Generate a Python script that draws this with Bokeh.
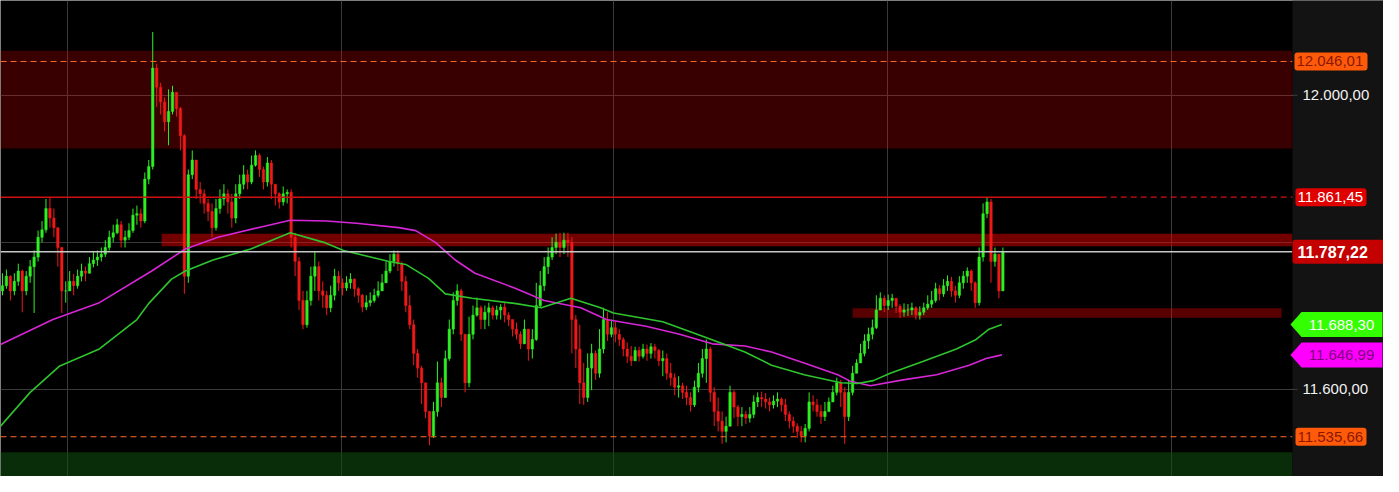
from bokeh.plotting import figure
from bokeh.models import Range1d, FixedTicker, BoxAnnotation, Label, PolyAnnotation, ColumnDataSource
from bokeh.embed import file_html
from bokeh.resources import INLINE

# ---------------- data ----------------
first_open = 11734

close = [
    11741, 11754, 11734, 11747, 11761, 11734, 11754, 11767, 11780, 11807,
    11817, 11846, 11833, 11820, 11793, 11734, 11734, 11747, 11741, 11754,
    11761, 11758, 11771, 11776, 11780, 11784, 11793, 11807, 11813, 11824,
    11803, 11807, 11816, 11837, 11839, 11829, 11886, 11903, 12037, 12011,
    11991, 11964, 11978, 12004, 11982, 11945, 11754, 11892, 11912, 11872,
    11866, 11853, 11842, 11820, 11846, 11859, 11866, 11855, 11833, 11866,
    11879, 11892, 11882, 11905, 11918, 11899, 11882, 11908, 11879, 11866,
    11855, 11866, 11868, 11807, 11774, 11721, 11688, 11721, 11754, 11767,
    11734, 11728, 11711, 11728, 11754, 11745, 11738, 11745, 11750, 11737,
    11728, 11712, 11718, 11721, 11728, 11734, 11745, 11761, 11774, 11784,
    11771, 11747, 11714, 11688, 11649, 11629, 11609, 11570, 11537, 11570,
    11609, 11589, 11642, 11682, 11721, 11734, 11675, 11609, 11675, 11701,
    11711, 11695, 11705, 11711, 11701, 11708, 11712, 11701, 11695, 11682,
    11675, 11662, 11682, 11655, 11668, 11714, 11741, 11767, 11780, 11793,
    11800, 11793, 11803, 11800, 11695, 11655, 11609, 11589, 11629, 11649,
    11622, 11655, 11695, 11675, 11684, 11675, 11668, 11655, 11645, 11639,
    11653, 11645, 11655, 11649, 11658, 11653, 11639, 11642, 11622, 11616,
    11603, 11605, 11596, 11589, 11579, 11603, 11622, 11642, 11655, 11596,
    11570, 11557, 11543, 11550, 11596, 11576, 11563, 11566, 11561, 11566,
    11583, 11589, 11587, 11583, 11579, 11584, 11587, 11579, 11566, 11557,
    11550, 11543, 11537, 11547, 11583, 11579, 11570, 11563, 11570, 11583,
    11596, 11609, 11596, 11563, 11596, 11622, 11636, 11649, 11666, 11675,
    11684, 11708, 11724, 11714, 11721, 11724, 11713, 11705, 11708, 11708,
    11711, 11701, 11705, 11711, 11716, 11721, 11737, 11730, 11741, 11747,
    11734, 11728, 11745, 11754, 11761, 11745, 11718, 11780, 11839, 11855,
    11774, 11784, 11734, 11787.22,
]

high = [
    11758, 11763, 11755, 11758, 11771, 11763, 11761, 11776, 11789, 11816,
    11829, 11859, 11862, 11846, 11813, 11793, 11747, 11761, 11757, 11763,
    11771, 11767, 11780, 11787, 11789, 11793, 11803, 11816, 11824, 11832,
    11829, 11816, 11826, 11846, 11850, 11846, 11895, 11912, 12086, 12043,
    12017, 11997, 12008, 12013, 12004, 11984, 11947, 11899, 11925, 11892,
    11882, 11872, 11859, 11853, 11859, 11872, 11879, 11872, 11866, 11879,
    11892, 11905, 11899, 11918, 11925, 11921, 11903, 11916, 11912, 11879,
    11868, 11876, 11872, 11872, 11813, 11780, 11734, 11734, 11767, 11787,
    11774, 11747, 11734, 11741, 11764, 11761, 11751, 11754, 11758, 11751,
    11739, 11730, 11728, 11732, 11737, 11747, 11757, 11774, 11784, 11789,
    11789, 11774, 11754, 11728, 11695, 11655, 11632, 11596, 11566, 11583,
    11638, 11616, 11653, 11695, 11732, 11743, 11737, 11662, 11699, 11714,
    11725, 11714, 11714, 11718, 11714, 11714, 11716, 11718, 11705, 11695,
    11691, 11679, 11695, 11675, 11682, 11745, 11761, 11780, 11793, 11807,
    11812, 11813, 11813, 11813, 11807, 11701, 11688, 11636, 11649, 11662,
    11653, 11682, 11711, 11705, 11695, 11692, 11682, 11671, 11664, 11659,
    11658, 11658, 11662, 11661, 11663, 11662, 11655, 11653, 11649, 11636,
    11622, 11618, 11609, 11605, 11596, 11612, 11636, 11655, 11668, 11658,
    11603, 11589, 11570, 11563, 11605, 11599, 11579, 11576, 11571, 11576,
    11592, 11596, 11597, 11595, 11589, 11592, 11596, 11589, 11587, 11570,
    11563, 11554, 11550, 11553, 11596, 11592, 11587, 11579, 11583, 11589,
    11605, 11616, 11613, 11603, 11613, 11632, 11641, 11662, 11675, 11684,
    11695, 11728, 11732, 11728, 11729, 11730, 11724, 11716, 11717, 11716,
    11718, 11713, 11713, 11718, 11728, 11734, 11745, 11742, 11750, 11755,
    11753, 11741, 11754, 11761, 11766, 11763, 11747, 11793, 11853, 11862,
    11859, 11793, 11784, 11793,
]

low = [
    11728, 11737, 11721, 11728, 11741, 11705, 11728, 11745, 11704, 11774,
    11800, 11813, 11820, 11807, 11767, 11704, 11718, 11734, 11728, 11737,
    11747, 11747, 11758, 11766, 11768, 11774, 11780, 11789, 11800, 11811,
    11793, 11793, 11803, 11813, 11824, 11820, 11826, 11879, 11899, 11984,
    11974, 11951, 11932, 11974, 11971, 11925, 11730, 11745, 11886, 11859,
    11853, 11839, 11829, 11807, 11816, 11839, 11850, 11839, 11820, 11826,
    11859, 11872, 11872, 11879, 11903, 11889, 11872, 11876, 11859, 11850,
    11846, 11850, 11853, 11793, 11754, 11708, 11682, 11684, 11714, 11734,
    11721, 11711, 11701, 11705, 11721, 11734, 11728, 11734, 11737, 11726,
    11718, 11705, 11708, 11713, 11718, 11725, 11734, 11745, 11758, 11767,
    11761, 11734, 11705, 11682, 11633, 11616, 11580, 11561, 11524, 11534,
    11563, 11576, 11596, 11639, 11675, 11714, 11666, 11596, 11603, 11668,
    11699, 11682, 11682, 11686, 11695, 11695, 11695, 11691, 11686, 11672,
    11668, 11655, 11668, 11639, 11642, 11666, 11711, 11734, 11757, 11776,
    11784, 11780, 11784, 11780, 11649, 11629, 11580, 11579, 11583, 11599,
    11613, 11616, 11649, 11666, 11671, 11664, 11659, 11645, 11636, 11632,
    11639, 11638, 11642, 11639, 11642, 11642, 11632, 11618, 11613, 11605,
    11592, 11589, 11587, 11579, 11570, 11576, 11596, 11616, 11609, 11583,
    11550, 11543, 11526, 11528, 11550, 11561, 11550, 11550, 11553, 11555,
    11561, 11576, 11576, 11574, 11570, 11574, 11576, 11570, 11557, 11547,
    11541, 11534, 11528, 11528, 11543, 11570, 11563, 11553, 11557, 11570,
    11583, 11592, 11576, 11526, 11557, 11592, 11622, 11639, 11645, 11655,
    11668, 11682, 11708, 11705, 11708, 11711, 11704, 11697, 11699, 11700,
    11701, 11695, 11695, 11701, 11708, 11711, 11718, 11721, 11726, 11734,
    11726, 11718, 11724, 11737, 11745, 11734, 11711, 11714, 11774, 11833,
    11745, 11767, 11724, 11734,
]

# moving averages (bar index, price)
ma_fast_idx = [-0.5, 7, 14.5, 24.5, 34, 37, 42.75, 46.25, 53.25, 62.75, 72.75, 81.25, 86.25,
               97.75, 102, 107.75, 112, 118.75, 129.5, 136.25, 143.75, 151.25, 154.5, 167,
               177.75, 187.75, 194.5, 202.75, 212, 216.25, 220.25, 224.5, 232.75, 241.25,
               246.25, 249.5, 252.75]
ma_fast = [11550, 11596, 11632, 11655, 11695, 11717, 11750, 11761, 11776, 11791, 11813, 11800, 11789,
           11774, 11770, 11751, 11730, 11724, 11717, 11711, 11724, 11711, 11704, 11692,
           11671, 11651, 11633, 11620, 11609, 11608, 11612, 11622, 11638, 11655,
           11668, 11682, 11688.30]

ma_slow_idx = [-0.5, 12.75, 24.5, 37.75, 46.25, 54.5, 66.25, 72.75, 82, 89.5, 100.25, 104.5,
               109.5, 114.5, 119.5, 129.5, 137, 146.25, 152.75, 162.75, 171.25, 179.5, 187.75,
               194.5, 202.75, 211.25, 214.5, 219.5, 227.75, 236.25, 244.5, 248.75, 252.75]
ma_slow = [11661, 11695, 11718, 11761, 11791, 11807, 11822, 11830, 11829, 11826, 11820, 11816,
           11800, 11776, 11758, 11738, 11721, 11711, 11695, 11686, 11675, 11662, 11659,
           11651, 11636, 11620, 11611, 11605, 11613, 11620, 11633, 11642, 11646.99]

# price levels
level_resist = 12046.01
level_red = 11861.45
level_last = 11787.22
level_support = 11535.66

# zones (bottom, top)
zone_top = (11927.6, 12060.5)
zone_mid = (11794.7, 11811.8)
zone_low = (11697.4, 11710.5)
zone_green_top = 11514.5

axis_ticks = [11600, 12000]
grid_prices = [11600, 11800, 12000]
time_grid_idx = [16.5, 85.75, 154.5, 223.75, 295.75]

# ---------------- layout ----------------
W, H = 1383, 476
AXIS_W = 91
CHART_W = W - AXIS_W
X0, X1 = -0.5, 326.25            # chart part of the x range
Y0, Y1 = 11481.6, 12128.9
PPX = CHART_W / (X1 - X0)
XF = X0 + W / PPX                # full frame (chart + price scale panel)
PPY = H / (Y1 - Y0)


def ax_x(px):
    return X1 + px / PPX


def dy(px):
    return px / PPY


def fmt(v):
    s = f"{v:,.2f}"
    return s.replace(",", "X").replace(".", ",").replace("X", ".")


FONT = "Liberation Sans"

p = figure(width=W, height=H, output_backend="svg", toolbar_location=None,
           x_axis_location=None, y_axis_location=None,
           x_range=Range1d(X0, XF), y_range=Range1d(Y0, Y1),
           min_border_left=0, min_border_top=0, min_border_bottom=0, min_border_right=0)
p.background_fill_color = "#000000"
p.border_fill_color = "#131313"
p.outline_line_color = None

p.xgrid.ticker = FixedTicker(ticks=time_grid_idx)
p.ygrid.ticker = FixedTicker(ticks=grid_prices)
p.xgrid.grid_line_color = "#3a3a3a"
p.ygrid.grid_line_color = "#3a3a3a"

# zones
p.add_layout(BoxAnnotation(right=X1, bottom=zone_top[0], top=zone_top[1], fill_color="#ff0000",
                           fill_alpha=0.22, line_color=None, level="underlay"))
p.add_layout(BoxAnnotation(left=40.25, right=X1, bottom=zone_mid[0], top=zone_mid[1], fill_color="#ff0000",
                           fill_alpha=0.45, line_color=None, level="underlay"))
p.add_layout(BoxAnnotation(left=215.0, right=323.5, bottom=zone_low[0], top=zone_low[1],
                           fill_color="#ff0000", fill_alpha=0.35, line_color=None, level="underlay"))
p.add_layout(BoxAnnotation(right=X1, top=zone_green_top, fill_color="#0f4a0f", fill_alpha=0.6,
                           line_color=None, level="underlay"))

# candles
opens = [first_open] + close[:-1]
n = len(close)
idx = list(range(n))
hi = [max(h, o, c) for h, o, c in zip(high, opens, close)]
lo = [min(l, o, c) for l, o, c in zip(low, opens, close)]
GREEN, RED = "#2ef023", "#f01818"
colors = [GREEN if c >= o else RED for o, c in zip(opens, close)]
src = ColumnDataSource(dict(x=idx, o=opens, c=close, h=hi, l=lo, col=colors,
                            top=[max(o, c) for o, c in zip(opens, close)],
                            bot=[min(o, c) for o, c in zip(opens, close)]))
p.segment(x0="x", y0="h", x1="x", y1="l", color="col", line_width=1, source=src)
p.vbar(x="x", top="top", bottom="bot", width=0.62, fill_color="col", line_color="col",
       line_width=0.5, source=src)

# moving averages
p.line(ma_slow_idx, ma_slow, line_color="#d626d6", line_width=1.6)
p.line(ma_fast_idx, ma_fast, line_color="#2ec42e", line_width=1.6)

# levels
p.line([X0, X1], [level_resist, level_resist], line_color="#ff6a2a", line_dash="6 4", line_width=1)
p.line([X0, X1], [level_support, level_support], line_color="#ff6a2a", line_dash="6 4", line_width=1)
p.line([X0, X1], [level_last, level_last], line_color="#c8c8c8", line_width=1.5)
p.line([X0, 277.75], [level_red, level_red], line_color="#d01010", line_width=1.5)
p.line([277.75, X1], [level_red, level_red], line_color="#d01010", line_width=1.2, line_dash="6 4")

# price-scale panel
p.add_layout(BoxAnnotation(left=X1, fill_color="#131313", fill_alpha=1, line_color=None))

for t in axis_ticks:
    p.add_layout(BoxAnnotation(left=ax_x(-1), right=ax_x(5), bottom=t - dy(0.5), top=t + dy(0.5),
                               fill_color="#777777", line_color=None))
    p.add_layout(Label(x=ax_x(10), y=t, text=fmt(t), text_align="left", text_baseline="middle",
                       text_font=FONT, text_font_size="15px", text_color="#f2f2f2"))


def tag(price, bg, fg, x_from, x_to, half_h, text_dx, bold=False, size="15px"):
    p.add_layout(BoxAnnotation(left=ax_x(x_from), right=ax_x(x_to), bottom=price - dy(half_h),
                               top=price + dy(half_h), fill_color=bg, fill_alpha=1,
                               line_color=None, border_radius=3))
    p.add_layout(Label(x=ax_x(text_dx), y=price, text=fmt(price), text_align="left", text_baseline="middle",
                       text_font=FONT, text_font_size=size, text_color=fg,
                       text_font_style="bold" if bold else "normal"))


tag(level_resist, "#ff5a0a", "#8a1800", 2, 75, 9, 4)
tag(level_red, "#e00000", "#ffffff", 3, 74, 9, 5)
tag(level_last, "#c40000", "#ffffff", 0, 92, 12, 5, bold=True, size="16px")
tag(level_support, "#ff5a0a", "#8a1800", 3, 74, 9, 5)


def arrow_tag(price, bg, fg):
    h = dy(12.5)
    xs = [ax_x(-2), ax_x(9), ax_x(90), ax_x(90), ax_x(9)]
    ys = [price, price + h, price + h, price - h, price - h]
    p.add_layout(PolyAnnotation(xs=xs, ys=ys, fill_color=bg, fill_alpha=1, line_color=None))
    p.add_layout(Label(x=ax_x(49), y=price, text=fmt(price), text_align="center", text_baseline="middle",
                       text_font=FONT, text_font_size="15px", text_color=fg))


arrow_tag(ma_fast[-1], "#33ff00", "#ffffff")
arrow_tag(ma_slow[-1], "#ff00ff", "#800080")

open("out.html", "w").write(file_html(p, INLINE))
